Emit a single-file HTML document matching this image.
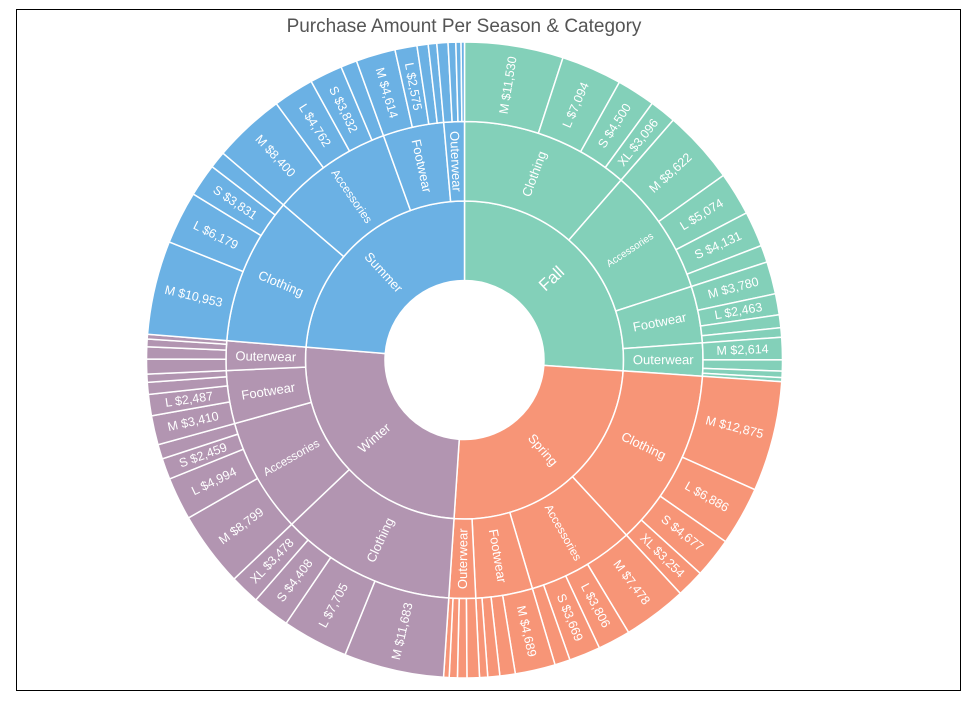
<!DOCTYPE html>
<html><head><meta charset="utf-8"><style>
body{margin:0;background:#fff;}
svg{display:block;font-family:"Liberation Sans",sans-serif;}
</style></head><body>
<svg id="chart" width="972" height="701" viewBox="0 0 972 701">
<rect x="16.5" y="9.5" width="944" height="681" fill="none" stroke="#000" stroke-width="1"/>
<text x="464" y="32" text-anchor="middle" font-size="19" fill="#555">Purchase Amount Per Season &amp; Category</text>
<g id="slices"></g>
</svg>
<script>
const seasons = ["Fall","Spring","Winter","Summer"];
const seasonColors = ["#83d0b9","#f79577","#b295b1","#6bb1e4"];
const categories = ["Clothing","Accessories","Footwear","Outerwear"];
const sizes = ["M","L","S","XL"];
const fallValues = [[11530,7094,4500,3096],[8622,5074,4131,2000],[3780,2463,1500,1100],[2614,1300,750,464]];
const springValues = [[12875,6886,4677,3254],[7478,3806,3669,1800],[4689,1800,1400,950],[1450,1100,950,650]];
const winterValues = [[11683,7705,4408,3478],[8799,4994,2459,1700],[3410,2487,1400,950],[1750,1400,900,550]];
const summerValues = [[10953,6179,3831,2000],[8400,4762,3832,1900],[4614,2575,1300,1000],[1300,900,600,400]];
const allValues = [fallValues,springValues,winterValues,summerValues];

const cx=464.5, cy=360, R0=79.5, R1=159, R2=238.5, R3=318;
const NS="http://www.w3.org/2000/svg";
const g=document.getElementById("slices");
const sum=a=>a.reduce((s,v)=>s+(Array.isArray(v)?sum(v):v),0);
const total=sum(allValues);
function pt(r,a){const t=a*Math.PI/180;return [cx+r*Math.sin(t),cy-r*Math.cos(t)];}
function arcPath(r0,r1,a0,a1){
  const large=(a1-a0)>180?1:0;
  const [x0,y0]=pt(r1,a0),[x1,y1]=pt(r1,a1),[x2,y2]=pt(r0,a1),[x3,y3]=pt(r0,a0);
  return `M${x0},${y0}A${r1},${r1} 0 ${large} 1 ${x1},${y1}L${x2},${y2}A${r0},${r0} 0 ${large} 0 ${x3},${y3}Z`;
}
function addSlice(r0,r1,a0,a1,color,name){
  const p=document.createElementNS(NS,"path");
  p.setAttribute("d",arcPath(r0,r1,a0,a1));
  p.setAttribute("fill",color);p.setAttribute("stroke","#fff");p.setAttribute("stroke-width","1.5");
  
  
  g.appendChild(p);
}
function addLabel(r0,r1,a0,a1,txt,base,name,minArc){
  const am=(a0+a1)/2, rm=(r0+r1)/2;
  const arc=(a1-a0)*Math.PI/180*rm;
  if(arc<minArc)return;
  let fs=Math.min(base,arc/1.3,(r1-r0-8)/(txt.length*0.56));
  let rot=am-90; if(rot>90)rot-=180; if(rot<-90)rot+=180;
  const [x,y]=pt(rm,am);
  const t=document.createElementNS(NS,"text");
  t.setAttribute("x",x);t.setAttribute("y",y);
  t.setAttribute("fill","#fff");t.setAttribute("font-size",fs.toFixed(1));
  t.setAttribute("text-anchor","middle");t.setAttribute("dominant-baseline","central");
  t.setAttribute("transform",`rotate(${rot} ${x} ${y})`);
  t.textContent=txt;
  
  
  g.appendChild(t);
}
const fmt=v=>"$"+v.toLocaleString("en-US");
let a=0;
const labels=[];
seasons.forEach((s,si)=>{
  const sv=allValues[si], st=sum(sv), sa=a;
  const sEnd=sa+st/total*360;
  addSlice(R0,R1,sa,sEnd,seasonColors[si],"season-"+s.toLowerCase());
  labels.push([R0,R1,sa,sEnd,s,si===0?17:13,"season-label-"+s.toLowerCase(),10]);
  let ca=sa;
  categories.forEach((c,ci)=>{
    const cv=sv[ci], ct=sum(cv), cEnd=ca+ct/total*360;
    addSlice(R1,R2,ca,cEnd,seasonColors[si],"category-"+s.toLowerCase()+"-"+c.toLowerCase());
    labels.push([R1,R2,ca,cEnd,c,(si===0&&ci===1)?10:13,"category-label-"+s.toLowerCase()+"-"+c.toLowerCase(),12]);
    let la=ca;
    sizes.forEach((z,zi)=>{
      const v=cv[zi], lEnd=la+v/total*360;
      addSlice(R2,R3,la,lEnd,seasonColors[si],"leaf-"+s.toLowerCase()+"-"+c.toLowerCase()+"-"+z.toLowerCase());
      labels.push([R2,R3,la,lEnd,z+" "+fmt(v),12.5,"leaf-label-"+s.toLowerCase()+"-"+c.toLowerCase()+"-"+z.toLowerCase(),17.5]);
      la=lEnd;
    });
    ca=cEnd;
  });
  a=sEnd;
});
labels.forEach(l=>addLabel(...l));
</script>
</body></html>
